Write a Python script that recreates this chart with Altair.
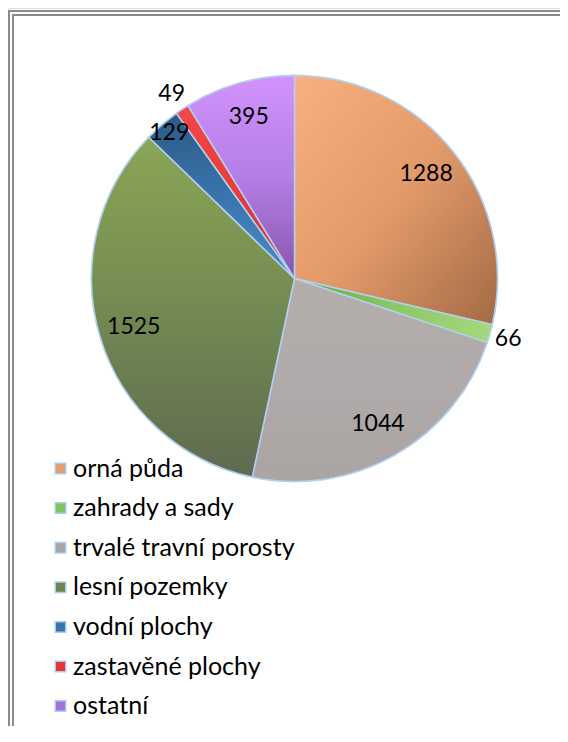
import math
import altair as alt
import pandas as pd

categories = ["orná půda", "zahrady a sady", "trvalé travní porosty", "lesní pozemky",
              "vodní plochy", "zastavěné plochy", "ostatní"]
values = [1288, 66, 1044, 1525, 129, 49, 395]
legend_colors = ["#e59d6c", "#84c25a", "#a9a3a2", "#6e8350", "#3a73ac", "#e53535", "#a770d8"]

# gradient styles per slice: (stops, x1, y1, x2, y2)
gradients = [
    (["#f8b07e", "#e39a6a", "#a36a45"], 0, 0, 1, 1),
    (["#64a53a", "#8cc865", "#a6d87f"], 0, 0, 1, 0),
    (["#b3aeac", "#b0abaa", "#aaa4a3"], 0, 0, 0, 1),
    (["#8aa656", "#738a52", "#5f6a50"], 0, 0, 0, 1),
    (["#2c5a82", "#3a74ad", "#4a8ccc"], 0, 0, 0, 1),
    (["#f44848", "#ea3a3a", "#d42e2e"], 0, 0, 0, 1),
    (["#d293fb", "#b47ee6", "#8756ad"], 0, 0, 0, 1),
]

total = sum(values)
ends = []
acc = 0
for v in values:
    acc += v
    ends.append(acc)
starts = [e - v for e, v in zip(ends, values)]
df = pd.DataFrame({
    "category": categories,
    "value": values,
    "start": starts,
    "end": ends,
    "mid": [(s + e) / 2 for s, e in zip(starts, ends)],
    "order": list(range(len(values))),
})

W, H = 552, 718
CX, CY, R = 286.5, 270.5, 203
theta_scale = alt.Scale(domain=[0, total], range=[0, 2 * math.pi])
stroke_col = "#b2d1f0"
FONT = "Lato"

base = alt.Chart(df).mark_arc(outerRadius=R, stroke=stroke_col, strokeWidth=1.5).encode(
    theta=alt.Theta("start:Q", scale=theta_scale, stack=None),
    theta2="end:Q",
    x=alt.value(CX), y=alt.value(CY),
    color=alt.Color("category:N", scale=alt.Scale(domain=categories, range=legend_colors),
                    sort=categories,
                    legend=alt.Legend(title=None, orient="none", legendX=40, legendY=448,
                                      symbolType="square", symbolSize=110,
                                      symbolStrokeColor="#a9cdf2", symbolStrokeWidth=1.5,
                                      labelFont=FONT, labelFontSize=25, labelColor="#000000",
                                      labelOffset=0, rowPadding=13.6, labelLimit=400)),
)

layers = [base]
for cat, (stops, x1, y1, x2, y2) in zip(categories, gradients):
    n = len(stops)
    grad = alt.Gradient(
        gradient="linear",
        stops=[alt.GradientStop(color=c, offset=i / (n - 1)) for i, c in enumerate(stops)],
        x1=x1, y1=y1, x2=x2, y2=y2,
    )
    layers.append(
        alt.Chart(df).transform_filter(alt.datum.category == cat)
        .mark_arc(outerRadius=R, fill=grad, stroke=stroke_col, strokeWidth=1.5)
        .encode(
            theta=alt.Theta("start:Q", scale=theta_scale, stack=None),
            theta2="end:Q",
            x=alt.value(CX), y=alt.value(CY),
        )
    )

labels = alt.Chart(df).transform_calculate(
    r="datum.value < 100 ? 222 : (datum.value < 200 ? 192 : 168)"
).mark_text(font=FONT, fontSize=23, color="#000000").encode(
    theta=alt.Theta("mid:Q", scale=theta_scale, stack=None),
    radius=alt.Radius("r:Q", scale=None),
    x=alt.value(CX), y=alt.value(CY),
    text="value:Q",
)
layers.append(labels)

# double frame (top and left edges; right/bottom lie outside the window)
frame_df = pd.DataFrame({"a": [0]})
frame_style = dict(color="#8a8a8a", strokeWidth=2, strokeCap="butt")
for off in (0, 4):
    layers.append(alt.Chart(frame_df).mark_rule(**frame_style).encode(
        x=alt.value(off), x2=alt.value(W), y=alt.value(3 + off)))
    layers.append(alt.Chart(frame_df).mark_rule(**frame_style).encode(
        x=alt.value(1 + off), y=alt.value(2 + off), y2=alt.value(H)))

chart = alt.layer(*layers).properties(
    width=W, height=H,
    autosize=alt.AutoSizeParams(type="none"),
    padding=0,
).configure_view(stroke="transparent", strokeWidth=0).configure(background="#ffffff")

chart.save("out.html", embed_options={"renderer": "svg", "actions": False})
